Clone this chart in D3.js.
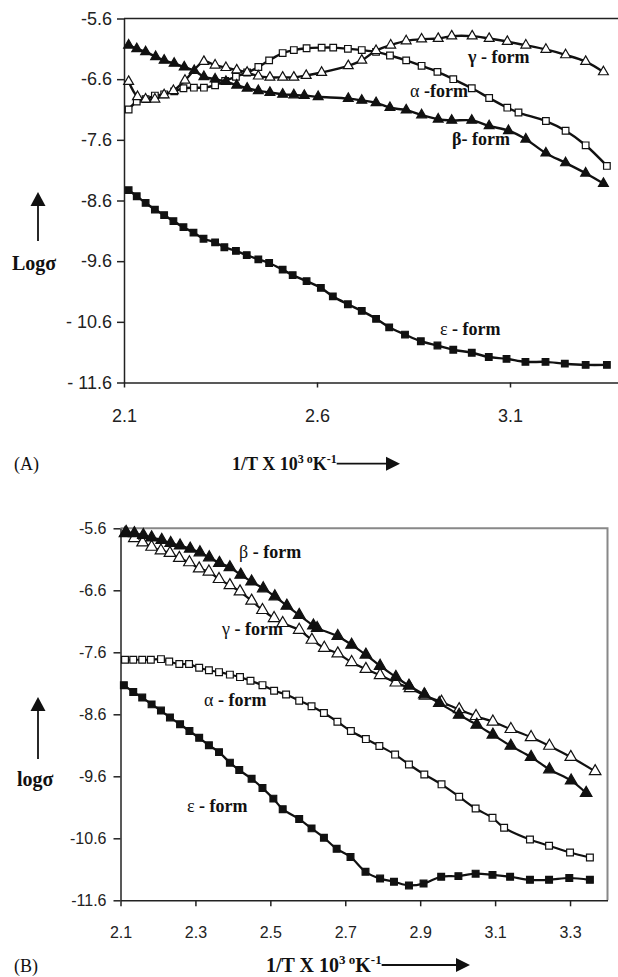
<!DOCTYPE html>
<html>
<head>
<meta charset="utf-8">
<script src="https://cdn.jsdelivr.net/npm/d3@7"></script>
<style>
body { margin: 0; background: #fff; }
svg { display: block; }
.tick text { font-family: "Liberation Sans", Arial, sans-serif; fill: #222; }
.serif { font-family: "Liberation Serif", "Times New Roman", serif; fill: #111; white-space: pre; }
</style>
</head>
<body>
<div id="chart"></div>
<script>
// ---- panel A (1/T x 10^3, log sigma) ----
let topBeta = [[2.112,-6.04],[2.133,-6.10],[2.156,-6.15],[2.182,-6.23],[2.204,-6.29],[2.230,-6.34],[2.256,-6.40],[2.282,-6.46],[2.307,-6.56],[2.336,-6.60],[2.364,-6.64],[2.392,-6.70],[2.419,-6.75],[2.448,-6.79],[2.478,-6.82],[2.511,-6.85],[2.540,-6.86],[2.567,-6.87],[2.603,-6.89],[2.681,-6.92],[2.716,-6.95],[2.753,-6.99],[2.789,-7.07],[2.831,-7.11],[2.871,-7.19],[2.914,-7.26],[2.949,-7.28],[3.001,-7.28],[3.046,-7.37],[3.096,-7.45],[3.141,-7.59],[3.193,-7.82],[3.244,-7.98],[3.296,-8.15],[3.342,-8.32]];
let topGamma = [[2.112,-6.64],[2.135,-6.89],[2.156,-6.93],[2.180,-6.93],[2.204,-6.86],[2.228,-6.79],[2.258,-6.62],[2.307,-6.31],[2.336,-6.37],[2.364,-6.41],[2.392,-6.45],[2.419,-6.49],[2.448,-6.55],[2.478,-6.57],[2.511,-6.57],[2.540,-6.57],[2.572,-6.54],[2.612,-6.49],[2.681,-6.38],[2.716,-6.29],[2.753,-6.13],[2.791,-6.04],[2.831,-5.97],[2.871,-5.94],[2.914,-5.93],[2.949,-5.89],[3.002,-5.89],[3.046,-5.93],[3.093,-5.98],[3.141,-6.04],[3.193,-6.11],[3.244,-6.20],[3.296,-6.31],[3.342,-6.48]];
let topAlpha = [[2.112,-7.10],[2.133,-6.97],[2.156,-6.93],[2.180,-6.87],[2.204,-6.85],[2.230,-6.80],[2.254,-6.75],[2.281,-6.74],[2.307,-6.74],[2.336,-6.70],[2.362,-6.63],[2.390,-6.56],[2.419,-6.49],[2.448,-6.40],[2.476,-6.29],[2.511,-6.17],[2.540,-6.12],[2.573,-6.09],[2.612,-6.08],[2.642,-6.08],[2.680,-6.10],[2.716,-6.12],[2.753,-6.15],[2.789,-6.21],[2.831,-6.29],[2.871,-6.38],[2.912,-6.48],[2.953,-6.60],[3.001,-6.75],[3.046,-6.91],[3.093,-7.07],[3.122,-7.15],[3.193,-7.29],[3.244,-7.45],[3.296,-7.69],[3.351,-8.03]];
let topEps = [[2.112,-8.43],[2.133,-8.53],[2.156,-8.64],[2.180,-8.75],[2.204,-8.84],[2.228,-8.94],[2.254,-9.04],[2.280,-9.13],[2.306,-9.23],[2.336,-9.29],[2.360,-9.37],[2.390,-9.43],[2.418,-9.50],[2.448,-9.57],[2.476,-9.63],[2.511,-9.74],[2.537,-9.83],[2.573,-9.93],[2.610,-10.04],[2.641,-10.18],[2.680,-10.31],[2.716,-10.42],[2.753,-10.55],[2.787,-10.69],[2.828,-10.81],[2.869,-10.92],[2.912,-10.99],[2.953,-11.06],[3.001,-11.11],[3.045,-11.18],[3.091,-11.21],[3.140,-11.26],[3.192,-11.26],[3.242,-11.29],[3.296,-11.31],[3.351,-11.31]];
let topXTicks = [2.1, 2.6, 3.1];
let topXLabels = ["2.1", "2.6", "3.1"];
let topYTicks = [-5.6, -6.6, -7.6, -8.6, -9.6, -10.6, -11.6];
let topYLabels = ["-5.6", "-6.6", "-7.6", "-8.6", "-9.6", "- 10.6", "- 11.6"];

// ---- panel B ----
let botBeta = [[2.115,-5.66],[2.137,-5.68],[2.161,-5.71],[2.183,-5.75],[2.210,-5.79],[2.234,-5.84],[2.259,-5.88],[2.286,-5.93],[2.312,-5.99],[2.337,-6.07],[2.364,-6.16],[2.392,-6.23],[2.421,-6.35],[2.450,-6.46],[2.481,-6.57],[2.512,-6.70],[2.544,-6.85],[2.577,-7.00],[2.615,-7.17],[2.625,-7.21],[2.680,-7.34],[2.717,-7.48],[2.755,-7.64],[2.793,-7.82],[2.835,-8.00],[2.870,-8.14],[2.911,-8.28],[2.951,-8.42],[3.004,-8.61],[3.051,-8.77],[3.094,-8.93],[3.142,-9.11],[3.196,-9.29],[3.245,-9.49],[3.303,-9.67],[3.343,-9.87]];
let botGamma = [[2.112,-5.68],[2.137,-5.76],[2.159,-5.83],[2.183,-5.90],[2.208,-5.96],[2.232,-6.00],[2.257,-6.08],[2.284,-6.15],[2.310,-6.25],[2.336,-6.30],[2.363,-6.42],[2.392,-6.52],[2.419,-6.62],[2.450,-6.77],[2.479,-6.92],[2.510,-7.05],[2.533,-7.13],[2.577,-7.24],[2.611,-7.40],[2.644,-7.53],[2.680,-7.62],[2.717,-7.76],[2.755,-7.87],[2.793,-7.97],[2.835,-8.09],[2.873,-8.18],[2.913,-8.30],[2.957,-8.40],[3.004,-8.52],[3.049,-8.63],[3.094,-8.72],[3.142,-8.84],[3.196,-8.97],[3.245,-9.11],[3.302,-9.29],[3.367,-9.52]];
let botAlpha = [[2.112,-7.72],[2.134,-7.72],[2.158,-7.72],[2.181,-7.72],[2.208,-7.71],[2.230,-7.75],[2.257,-7.79],[2.283,-7.79],[2.310,-7.85],[2.336,-7.89],[2.363,-7.92],[2.392,-7.96],[2.419,-8.00],[2.447,-8.06],[2.479,-8.13],[2.510,-8.22],[2.542,-8.28],[2.577,-8.38],[2.610,-8.47],[2.643,-8.58],[2.679,-8.72],[2.715,-8.87],[2.755,-9.00],[2.791,-9.11],[2.833,-9.25],[2.870,-9.41],[2.911,-9.57],[2.957,-9.73],[3.004,-9.93],[3.048,-10.12],[3.093,-10.27],[3.124,-10.43],[3.193,-10.62],[3.244,-10.72],[3.300,-10.83],[3.353,-10.91]];
let botEps = [[2.109,-8.13],[2.134,-8.24],[2.158,-8.33],[2.183,-8.44],[2.208,-8.54],[2.232,-8.65],[2.259,-8.76],[2.284,-8.87],[2.310,-8.98],[2.336,-9.10],[2.363,-9.21],[2.392,-9.38],[2.417,-9.50],[2.450,-9.64],[2.479,-9.79],[2.508,-9.96],[2.533,-10.13],[2.577,-10.29],[2.610,-10.44],[2.643,-10.59],[2.677,-10.77],[2.714,-10.90],[2.754,-11.14],[2.793,-11.25],[2.830,-11.30],[2.870,-11.36],[2.909,-11.33],[2.956,-11.22],[3.002,-11.21],[3.048,-11.17],[3.093,-11.19],[3.140,-11.22],[3.193,-11.27],[3.244,-11.27],[3.298,-11.24],[3.353,-11.27]];
let botXTicks = [2.1, 2.3, 2.5, 2.7, 2.9, 3.1, 3.3];
let botXLabels = ["2.1", "2.3", "2.5", "2.7", "2.9", "3.1", "3.3"];
let botYTicks = [-5.6, -6.6, -7.6, -8.6, -9.6, -10.6, -11.6];
let botYLabels = ["-5.6", "-6.6", "-7.6", "-8.6", "-9.6", "-10.6", "-11.6"];

let svg = d3.select("#chart").append("svg")
    .attr("width", 618)
    .attr("height", 977);

let line = (x, y) => d3.line()
    .x(d => x(d[0]))
    .y(d => y(d[1]))
    .curve(d3.curveCatmullRom.alpha(0.5));

function drawSeries(g, x, y, data, shape, filled, size, lw) {
    g.append("path")
        .datum(data)
        .attr("fill", "none")
        .attr("stroke", "#111")
        .attr("stroke-width", lw)
        .attr("d", line(x, y));

    let sym = d3.symbol()
        .type(shape === "tri" ? d3.symbolTriangle : d3.symbolSquare)
        .size(size);

    g.selectAll(null)
        .data(data)
        .enter()
        .append("path")
        .attr("transform", d => "translate(" + x(d[0]) + "," + y(d[1]) + ")")
        .attr("d", sym)
        .attr("fill", filled ? "#111" : "#fff")
        .attr("stroke", "#111")
        .attr("stroke-width", 1.2);
}

function formLabel(g, px, py, greek, rest, greekBold, size) {
    let t = g.append("text")
        .attr("class", "serif")
        .attr("x", px)
        .attr("y", py)
        .style("font-size", size + "px")
        .style("font-weight", "bold");
    t.append("tspan").style("font-weight", greekBold ? "bold" : "normal").text(greek);
    t.append("tspan").text(rest);
}

function upArrow(x0, yBot, yTop) {
    svg.append("line")
        .attr("x1", x0).attr("x2", x0)
        .attr("y1", yBot).attr("y2", yTop + 13)
        .attr("stroke", "#111").attr("stroke-width", 1.8);
    svg.append("path")
        .attr("d", "M" + (x0 - 7.5) + "," + (yTop + 14) + "L" + (x0 + 7.5) + "," + (yTop + 14) + "L" + x0 + "," + yTop + "Z")
        .attr("fill", "#111");
}

function xTitle(px, py, size, arrowEnd) {
    let sup = Math.round(size * 0.65);
    let t = svg.append("text")
        .attr("class", "serif")
        .attr("x", px)
        .attr("y", py)
        .style("font-size", size + "px")
        .style("font-weight", "bold");
    t.append("tspan").text("1/T X 10");
    t.append("tspan").attr("dy", -size * 0.4).style("font-size", sup + "px").text("3");
    t.append("tspan").attr("dy", 0).style("font-size", sup + "px").text(" o");
    t.append("tspan").attr("dy", size * 0.4).text("K");
    t.append("tspan").attr("dy", -size * 0.4).style("font-size", sup + "px").text("-1");
    let end = px + t.node().getComputedTextLength();
    let ay = py - size * 0.35;
    svg.append("line")
        .attr("x1", end).attr("x2", arrowEnd - 13)
        .attr("y1", ay).attr("y2", ay)
        .attr("stroke", "#111").attr("stroke-width", 1.8);
    svg.append("path")
        .attr("d", "M" + (arrowEnd - 14) + "," + (ay - 7) + "L" + arrowEnd + "," + ay + "L" + (arrowEnd - 14) + "," + (ay + 7) + "Z")
        .attr("fill", "#111");
}

// ---------- panel A ----------
let xA = d3.scaleLinear().domain([2.1, 3.4]).range([124, 625.8]);
let yA = d3.scaleLinear().domain([-11.6, -5.6]).range([382.5, 18.5]);
let gA = svg.append("g");

gA.append("line")
    .attr("x1", xA(2.1)).attr("x2", 618)
    .attr("y1", yA(-5.6)).attr("y2", yA(-5.6))
    .attr("stroke", "#222").attr("stroke-width", 1.5);

gA.append("g")
    .attr("transform", "translate(0," + yA(-11.6) + ")")
    .call(d3.axisBottom(xA).tickValues(topXTicks).tickFormat((d, i) => topXLabels[i]).tickSize(5).tickSizeOuter(0).tickPadding(22))
    .call(g => g.selectAll("text").style("font-size", "18px"))
    .call(g => g.selectAll("path, line").attr("stroke", "#222").attr("stroke-width", 1.5));

gA.append("g")
    .attr("transform", "translate(" + xA(2.1) + ",0)")
    .call(d3.axisLeft(yA).tickValues(topYTicks).tickFormat((d, i) => topYLabels[i]).tickSize(7).tickSizeOuter(0).tickPadding(5))
    .call(g => g.selectAll("text").style("font-size", "18px"))
    .call(g => g.selectAll("path, line").attr("stroke", "#222").attr("stroke-width", 1.5));

drawSeries(gA, xA, yA, topEps, "sq", true, 44, 2.4);
drawSeries(gA, xA, yA, topAlpha, "sq", false, 44, 2.4);
drawSeries(gA, xA, yA, topBeta, "tri", true, 42, 2.4);
drawSeries(gA, xA, yA, topGamma, "tri", false, 42, 2.4);

formLabel(gA, 468, 63, "\u03b3", " - form", true, 18);
formLabel(gA, 410, 97, "\u03b1", " -form", false, 18);
formLabel(gA, 452, 145, "\u03b2", "- form", true, 18);
formLabel(gA, 440, 335, "\u03b5", " - form", false, 18);

svg.append("text").attr("class", "serif")
    .attr("x", 12).attr("y", 270)
    .style("font-size", "20px").style("font-weight", "bold")
    .text("Log\u03c3");
upArrow(38, 241, 192);

svg.append("text").attr("class", "serif")
    .attr("x", 14).attr("y", 470)
    .style("font-size", "18px")
    .text("(A)");
xTitle(232, 470, 18, 400);

// ---------- panel B ----------
let xB = d3.scaleLinear().domain([2.1, 3.4]).range([120.5, 607.5]);
let yB = d3.scaleLinear().domain([-11.6, -5.6]).range([900.3, 528.3]);
let gB = svg.append("g");

gB.append("path")
    .attr("d", "M" + xB(2.1) + "," + yB(-5.6) + "H" + xB(3.4) + "V" + yB(-11.6))
    .attr("fill", "none")
    .attr("stroke", "#888").attr("stroke-width", 2);

gB.append("g")
    .attr("transform", "translate(0," + yB(-11.6) + ")")
    .call(d3.axisBottom(xB).tickValues(botXTicks).tickFormat((d, i) => botXLabels[i]).tickSize(6).tickSizeOuter(0).tickPadding(20))
    .call(g => g.selectAll("text").style("font-size", "16px"))
    .call(g => g.selectAll("path, line").attr("stroke", "#222").attr("stroke-width", 1.5));

gB.append("g")
    .attr("transform", "translate(" + xB(2.1) + ",0)")
    .call(d3.axisLeft(yB).tickValues(botYTicks).tickFormat((d, i) => botYLabels[i]).tickSize(7).tickSizeOuter(0).tickPadding(7))
    .call(g => g.selectAll("text").style("font-size", "16px"))
    .call(g => g.selectAll("path, line").attr("stroke", "#222").attr("stroke-width", 1.5));

drawSeries(gB, xB, yB, botEps, "sq", true, 46, 2.2);
drawSeries(gB, xB, yB, botAlpha, "sq", false, 46, 2.2);
drawSeries(gB, xB, yB, botGamma, "tri", false, 58, 2.2);
drawSeries(gB, xB, yB, botBeta, "tri", true, 58, 2.2);

formLabel(gB, 239, 558, "\u03b2", " - form", false, 18);
formLabel(gB, 222, 635, "\u03b3", " - form", false, 18);
formLabel(gB, 204, 706, "\u03b1", " - form", false, 18);
formLabel(gB, 187, 812, "\u03b5", " - form", false, 18);

svg.append("text").attr("class", "serif")
    .attr("x", 17).attr("y", 786)
    .style("font-size", "20px").style("font-weight", "bold")
    .text("log\u03c3");
upArrow(38, 759, 697);

svg.append("text").attr("class", "serif")
    .attr("x", 14).attr("y", 972)
    .style("font-size", "18px")
    .text("(B)");
xTitle(266, 972, 20, 470);
</script>
</body>
</html>
